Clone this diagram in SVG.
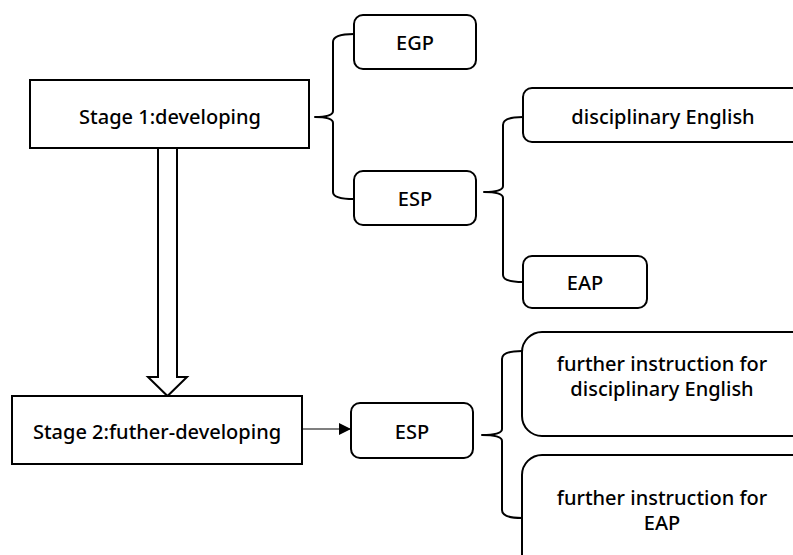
<svg xmlns="http://www.w3.org/2000/svg" width="793" height="555" viewBox="0 0 793 555">
<defs>
<style>
.box{fill:#fff;stroke:#000;stroke-width:2}
.t{font-family:"Noto Sans","Open Sans",sans-serif;font-size:20px;font-weight:500;fill:#000;text-anchor:middle;dominant-baseline:central}
.br{fill:none;stroke:#000;stroke-width:2;stroke-linejoin:round}
</style>
<marker id="ah" viewBox="0 0 10 10" refX="10" refY="5" markerWidth="12" markerHeight="12" markerUnits="userSpaceOnUse" orient="auto">
<path d="M0,0 L10,5 L0,10 z" fill="#000"/>
</marker>
</defs>
<rect width="793" height="555" fill="#fff"/>
<g id="connectors">
<path class="br" d="M354,34 Q333,34 333,42 L333,111 Q333,117 315,117 Q333,117 333,123 L333,192 Q333,199 354,199"/>
<path class="br" d="M523,117 Q503,117 503,125 L503,186 Q503,192 484,192 Q503,192 503,198 L503,275 Q503,282 523,282"/>
<path class="br" d="M522,351 Q502,351 502,359 L502,429 Q502,435 482,435 Q502,435 502,441 L502,510 Q502,518 522,518"/>
<path d="M158,148 L158,377 L148,377 L167.5,396 L187,377 L177,377 L177,148" fill="#fff" stroke="#000" stroke-width="2" stroke-linejoin="miter"/>
<line x1="302" y1="429" x2="351" y2="429" stroke="#000" stroke-width="1.2" marker-end="url(#ah)"/>
</g>
<g id="stage1">
<rect class="box" x="30" y="80" width="279" height="68"/>
<text class="t" x="170" y="116">Stage 1:developing</text>
</g>
<g id="egp">
<rect class="box" x="354" y="15" width="122" height="54" rx="9"/>
<text class="t" x="415" y="42">EGP</text>
</g>
<g id="esp1">
<rect class="box" x="354" y="171" width="122" height="54" rx="9"/>
<text class="t" x="415" y="198">ESP</text>
</g>
<g id="disc">
<rect class="box" x="523" y="88" width="285" height="54" rx="9"/>
<text class="t" x="663" y="116">disciplinary English</text>
</g>
<g id="eap1">
<rect class="box" x="523" y="256" width="124" height="52" rx="9"/>
<text class="t" x="585" y="282">EAP</text>
</g>
<g id="stage2">
<rect class="box" x="12" y="396" width="290" height="68"/>
<text class="t" x="157" y="431">Stage 2:futher-developing</text>
</g>
<g id="esp2">
<rect class="box" x="351" y="403" width="122" height="55" rx="9"/>
<text class="t" x="412" y="431">ESP</text>
</g>
<g id="further1">
<rect class="box" x="522" y="332" width="290" height="104" rx="20"/>
<text class="t" x="662" y="363">further instruction for</text>
<text class="t" x="662" y="388">disciplinary English</text>
</g>
<g id="further2">
<rect class="box" x="522" y="455" width="290" height="120" rx="20"/>
<text class="t" x="662" y="497">further instruction for</text>
<text class="t" x="662" y="522">EAP</text>
</g>
</svg>
